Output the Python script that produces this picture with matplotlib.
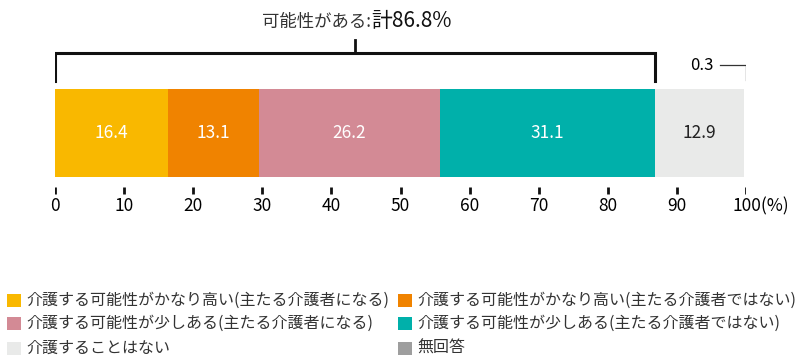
import matplotlib
matplotlib.use('Agg')
import matplotlib.pyplot as plt
from matplotlib.patches import Rectangle
import numpy as np

plt.rcParams['font.family'] = ['Noto Sans CJK JP', 'DejaVu Sans']

# data
categories = [
    '介護する可能性がかなり高い(主たる介護者になる)',
    '介護する可能性がかなり高い(主たる介護者ではない)',
    '介護する可能性が少しある(主たる介護者になる)',
    '介護する可能性が少しある(主たる介護者ではない)',
    '介護することはない',
    '無回答',
]
values = [16.4, 13.1, 26.2, 31.1, 12.9, 0.3]
colors = ['#F9B800', '#F08300', '#D38A95', '#00B0AA', '#E9EAE9', '#9E9E9E']
label_colors = ['white', 'white', 'white', 'white', '#222222', None]
tick_values = [0, 10, 20, 30, 40, 50, 60, 70, 80, 90, 100]
tick_labels = ['0', '10', '20', '30', '40', '50', '60', '70', '80', '90', '100(%)']
possible_total = 86.8

W, H = 800, 362
fig = plt.figure(figsize=(W / 100, H / 100), dpi=100)
ax = fig.add_axes([55 / W, 0, 691 / W, 1])
ax.set_xlim(0, 100)
ax.set_ylim(H, 0)   # y in pixel-like units, top down
ax.axis('off')

# stacked bar (the 0.3 sliver is too thin to show; it gets a callout instead)
left = np.concatenate([[0], np.cumsum(values)[:-1]])
ax.barh(132.5, values[:5], left=left[:5], height=88, color=colors[:5], linewidth=0)
for v, l, c in zip(values, left, label_colors):
    if c is None:
        continue
    ax.text(l + v / 2, 133, f'{v:.1f}', ha='center', va='center',
            fontsize=12.5, color=c)

# axis ticks
for t, lab in zip(tick_values, tick_labels):
    ax.plot([t, t], [187, 193.5], color='#111111', lw=2, solid_capstyle='butt')
    if lab.endswith('(%)'):
        ax.text(t - 2.0, 206, lab, ha='left', va='center', fontsize=12.5)
    else:
        ax.text(t, 206, lab, ha='center', va='center', fontsize=12.5)

# bracket for "possible" total
ax.plot([0, 0, possible_total, possible_total], [81, 53, 53, 81],
        color='#111111', lw=2.2, solid_joinstyle='miter')
ax.plot([possible_total / 2] * 2, [40, 53], color='#111111', lw=2)
ax.text(45.7, 27, '可能性がある:', ha='right', va='baseline', fontsize=12.5,
        color='#333333')
ax.text(45.7, 27, f'計{possible_total}%', ha='left', va='baseline', fontsize=15,
        color='#111111')

# 0.3 callout
ax.plot([96.2, 100, 100], [65, 65, 80], color='#333333', lw=0.9)
ax.text(95.3, 65, f'{values[5]:.1f}', ha='right', va='center', fontsize=12)

# legend, laid out as a 2-column grid (row-major)
col_x = [7, 398]
row_y = [300, 323.5, 348]
for i, (name, col) in enumerate(zip(categories, colors)):
    cx = col_x[i % 2]
    cy = row_y[i // 2]
    fig.patches.append(Rectangle(((cx) / W, 1 - (cy + 6.5) / H), 14 / W, 13 / H,
                                 transform=fig.transFigure, facecolor=col,
                                 edgecolor='none'))
    fig.text((cx + 19) / W, 1 - cy / H, name, ha='left', va='center',
             fontsize=11.5, color='#333333')

fig.savefig('out.png', dpi=100)
